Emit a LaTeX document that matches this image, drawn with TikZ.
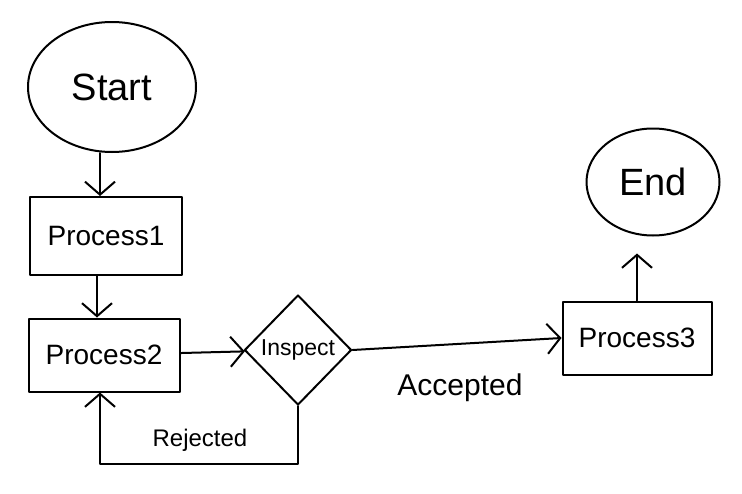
\documentclass[tikz,border=0pt]{standalone}
\usepackage{fontspec}
\setmainfont{Liberation Sans}
\usetikzlibrary{shapes.geometric,arrows.meta}
\begin{document}
\begin{tikzpicture}[x=1pt,y=-1pt,line width=2pt,line join=round,line cap=round,
  arr/.style={-{Straight Barb[length=13pt,width=30pt,line width=2pt]}},
  proc/.style={draw,rectangle,minimum width=152pt,minimum height=75pt,inner sep=2pt,font=\fontsize{28}{32}\selectfont},
  term/.style={draw,ellipse,inner sep=2pt},
  lbl/.style={inner sep=1pt}]
\path[use as bounding box] (0,0) rectangle (742,493);
\node[term,minimum width=168pt,minimum height=130pt,font=\fontsize{38}{44}\selectfont] (start) at (112,87) {Start};
\node[proc,minimum height=78pt] (p1) at (106,236) {Process1};
\node[proc,minimum width=151pt,minimum height=73pt] (p2) at (104,355) {Process2};
\node[draw,diamond,minimum width=107pt,minimum height=110pt,inner sep=0pt,font=\fontsize{23}{25}\selectfont] (insp) at (298,350) {Inspect};
\node[proc,minimum width=149pt,minimum height=73pt] (p3) at (637,338) {Process3};
\node[term,minimum width=133pt,minimum height=107pt,font=\fontsize{38}{44}\selectfont] (end) at (653,182) {End};
\node[lbl,font=\fontsize{24}{28}\selectfont] (rej) at (200,440) {Rejected};
\node[lbl,font=\fontsize{30}{34}\selectfont] (acc) at (460,388) {Accepted};
\draw[arr] ([xshift=-12pt]start.south) -- ([xshift=-12pt]start.south |- p1.north);
\draw[arr] ([xshift=-9pt]p1.south) -- ([xshift=-9pt]p1.south |- p2.north);
\draw[arr] (p2) -- (insp);
\draw[arr] (insp.east) -- (p3.west);
\draw[arr,shorten >=17pt] (p3.north) -- (p3.north |- end.south);
\draw[arr] (insp.south) -- ++(0,58) coordinate (loopc) -| ([xshift=-4pt]p2.south);
\end{tikzpicture}
\end{document}
